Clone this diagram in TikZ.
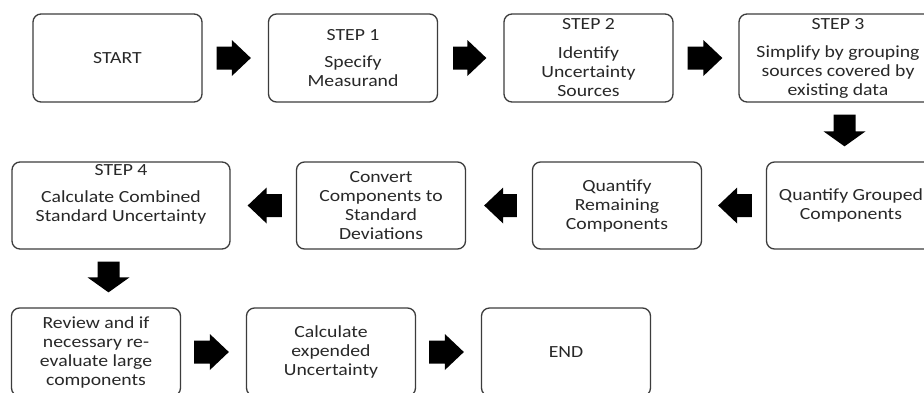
\documentclass[tikz,border=0pt]{standalone}
\usepackage{fontspec}
\setmainfont{Carlito}[FakeStretch=1.16]
\usetikzlibrary{calc}
\definecolor{linec}{RGB}{60,60,60}
\definecolor{textc}{RGB}{40,40,40}
% right-pointing block arrow from #1 (tail) to #2 (tip)
\newcommand\rblk[2]{\fill[black] let \p1=(#1), \p2=(#2) in
  (\x1,\y1+11.5pt) -- (\x2-19pt,\y1+11.5pt) -- (\x2-19pt,\y1+18pt) -- (\x2,\y1)
  -- (\x2-19pt,\y1-18pt) -- (\x2-19pt,\y1-11.5pt) -- (\x1,\y1-11.5pt) -- cycle;}
% left-pointing block arrow from #1 (tail) to #2 (tip)
\newcommand\lblk[2]{\fill[black] let \p1=(#1), \p2=(#2) in
  (\x1,\y1+11.5pt) -- (\x2+19pt,\y1+11.5pt) -- (\x2+19pt,\y1+18pt) -- (\x2,\y1)
  -- (\x2+19pt,\y1-18pt) -- (\x2+19pt,\y1-11.5pt) -- (\x1,\y1-11.5pt) -- cycle;}
% downward block arrow between node #1 and node #2
\newcommand\dblk[2]{\fill[black] let \p1=(#1.south), \p2=(#2.north) in
  ({0.5*\x1+0.5*\x2-11pt},{\y1-12pt}) -- ({0.5*\x1+0.5*\x2-11pt},{\y2+30pt})
  -- ({0.5*\x1+0.5*\x2-21pt},{\y2+30pt}) -- ({0.5*\x1+0.5*\x2},{\y2+15pt})
  -- ({0.5*\x1+0.5*\x2+21pt},{\y2+30pt}) -- ({0.5*\x1+0.5*\x2+11pt},{\y2+30pt})
  -- ({0.5*\x1+0.5*\x2+11pt},{\y1-12pt}) -- cycle;}
\begin{document}
\begin{tikzpicture}[x=1pt,y=-1pt,
  box/.style={draw=linec, line width=1.3pt, rounded corners=8pt,
    minimum width=169pt, minimum height=88pt, inner sep=0pt, align=center,
    text=textc, font=\fontsize{17}{19}\selectfont},
  lbl/.style={align=center, text=textc, font=\fontsize{17}{19}\selectfont, inner sep=0pt}]
\useasboundingbox (0,0) rectangle (924,392);
\fill[white] (0,0) rectangle (924,392);
\clip (0,0) rectangle (924,392);
% row 1
\node[box] (start) at (117.5,58) {START};
\node[box] (s1) at (353,58) {STEP 1\\[8pt]Specify\\Measurand};
\node[box] (s2) at (588.5,58) {STEP 2\\[10pt]Identify\\Uncertainty\\Sources};
\node[box, minimum width=198pt] (s3) at (838,58) {STEP 3\\[9pt]Simplify by grouping\\sources covered by\\existing data};
% row 2
\node[box, minimum height=87pt] (qg) at (851,205.5) {Quantify Grouped\\Components};
\node[box, minimum height=87pt] (qr) at (617,205.5) {Quantify\\Remaining\\Components};
\node[box, minimum height=87pt] (cv) at (381,205.5) {Convert\\Components to\\Standard\\Deviations};
\node[box, minimum height=87pt, minimum width=218pt] (s4) at (121,205.5) {};
\node[lbl] (s4t) at (121,194) {STEP 4\\[8pt]Calculate Combined\\Standard Uncertainty};
% row 3
\node[box] (rv) at (96,352) {Review and if\\necessary re-\\evaluate large\\components};
\node[box] (ce) at (331,352) {Calculate\\expended\\Uncertainty};
\node[box] (en) at (566,352) {END};
% arrows
\rblk{$(start.east)+(14,0)$}{$(s1.west)+(-17,0)$}
\rblk{$(s1.east)+(15,0)$}{$(s2.west)+(-17,0)$}
\rblk{$(s2.east)+(14,0)$}{$(s3.west)+(-16,0)$}
\dblk{s3}{qg}
\lblk{$(qg.west)+(-14,0)$}{$(qr.east)+(16,0)$}
\lblk{$(qr.west)+(-15,0)$}{$(cv.east)+(18,0)$}
\lblk{$(cv.west)+(-14,0)$}{$(s4.east)+(17,0)$}
\dblk{s4}{rv}
\rblk{$(rv.east)+(13,0)$}{$(ce.west)+(-17,0)$}
\rblk{$(ce.east)+(13,0)$}{$(en.west)+(-17,0)$}
\end{tikzpicture}
\end{document}
